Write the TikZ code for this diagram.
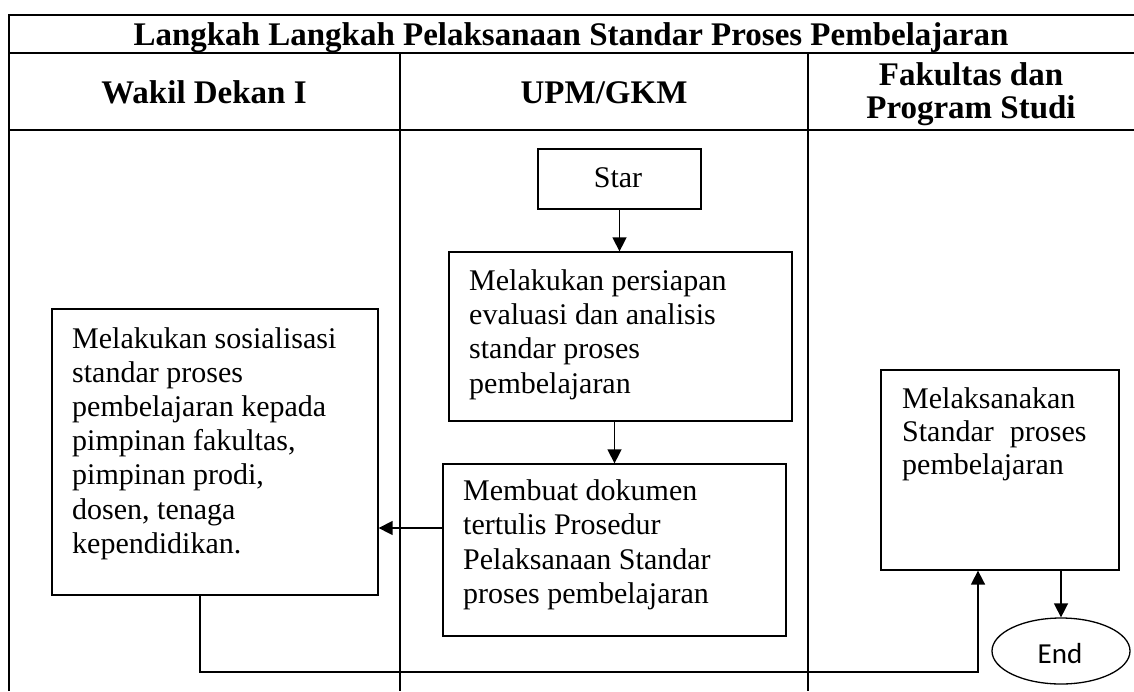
\documentclass[tikz,border=0pt]{standalone}
\usepackage{fontspec}
\setmainfont{Liberation Serif}
\newfontfamily\endfont{Carlito}
\usetikzlibrary{arrows.meta,shapes.geometric}
\begin{document}
\begin{tikzpicture}[x=1pt,y=-1pt,
  tline/.style={line width=1.8pt},
  box/.style={draw, line width=1.3pt, rectangle, inner sep=0pt},
  conn/.style={line width=1.7pt},
  tip/.style={-{Triangle[length=14pt,width=14pt]}},
  arr/.style={line width=1.5pt, tip},
  body/.style={inner sep=0pt, anchor=base west, font=\fontsize{30}{34.2}\selectfont},
  head/.style={inner sep=0pt, anchor=base, font=\fontsize{33}{33}\selectfont\bfseries}]
\useasboundingbox (0,0) rectangle (1134,691);
% table
\draw[tline] (9,691) -- (9,15) -- (1134,15);
\draw[tline] (9,53) -- (1134,53);
\draw[tline] (9,130) -- (1134,130);
\draw[tline] (400,53) -- (400,691);
\draw[tline] (808,53) -- (808,691);
% headers
\node[head] (title) at (571,45) {Langkah Langkah Pelaksanaan Standar Proses Pembelajaran};
\node[head] (h1) at (204,103) {Wakil Dekan I};
\node[head] (h2) at (604,103) {UPM/GKM};
\node[head] (h3) at (971,85) {\parbox[t]{320pt}{\centering Fakultas dan\\Program Studi}};
% boxes
\node[box, minimum width=163pt, minimum height=60pt] (star) at (619.5,179) {};
\node[box, minimum width=343pt, minimum height=169pt] (b2) at (620.5,336.5) {};
\node[box, minimum width=343pt, minimum height=172pt] (b3) at (614.5,550) {};
\node[box, minimum width=326pt, minimum height=286pt] (b1) at (215,452) {};
\node[box, minimum width=238pt, minimum height=200pt] (b4) at (1000,470) {};
\node[draw, line width=1.3pt, ellipse, inner sep=0pt, minimum width=138pt, minimum height=66pt] (end) at (1061,651) {};
% texts
\node[body, anchor=base] (startxt) at (618,187) {Star};
\node[body] (t1) at (72,348) {\parbox[t]{320pt}{\raggedright Melakukan sosialisasi\\ standar proses\\ pembelajaran kepada\\ pimpinan fakultas,\\ pimpinan prodi,\\ dosen, tenaga\\ kependidikan.}};
\node[body] (t2) at (469,290.5) {\parbox[t]{330pt}{\raggedright Melakukan persiapan\\ evaluasi dan analisis\\ standar proses\\ pembelajaran}};
\node[body] (t3) at (463,500.7) {\parbox[t]{330pt}{\raggedright Membuat dokumen\\ tertulis Prosedur\\ Pelaksanaan Standar\\ proses pembelajaran}};
\node[body, font=\fontsize{30}{33}\selectfont] (t4) at (902,408) {\parbox[t]{230pt}{\raggedright Melaksanakan\\ Standar\hspace{16pt}proses\\ pembelajaran}};
\node[inner sep=0pt, anchor=base, font=\endfont\fontsize{29}{29}\selectfont] (endtxt) at (1060,663) {End};
% connectors
\coordinate (j1) at (443,528);
\coordinate (c1) at (200,672);
\coordinate (c2) at (978,672);
\draw[arr] (star.south) -- (star.south |- b2.north);
\draw[arr] (b3.north |- b2.south) -- (b3.north);
\draw[arr] (b3.west |- j1) -- (b1.east |- j1);
\draw[conn, tip] (b1.south -| c1) -- (c1) -- (c2) -- (b4.south -| c2);
\draw[arr] (end.north |- b4.south) -- (end.north);
\end{tikzpicture}
\end{document}
